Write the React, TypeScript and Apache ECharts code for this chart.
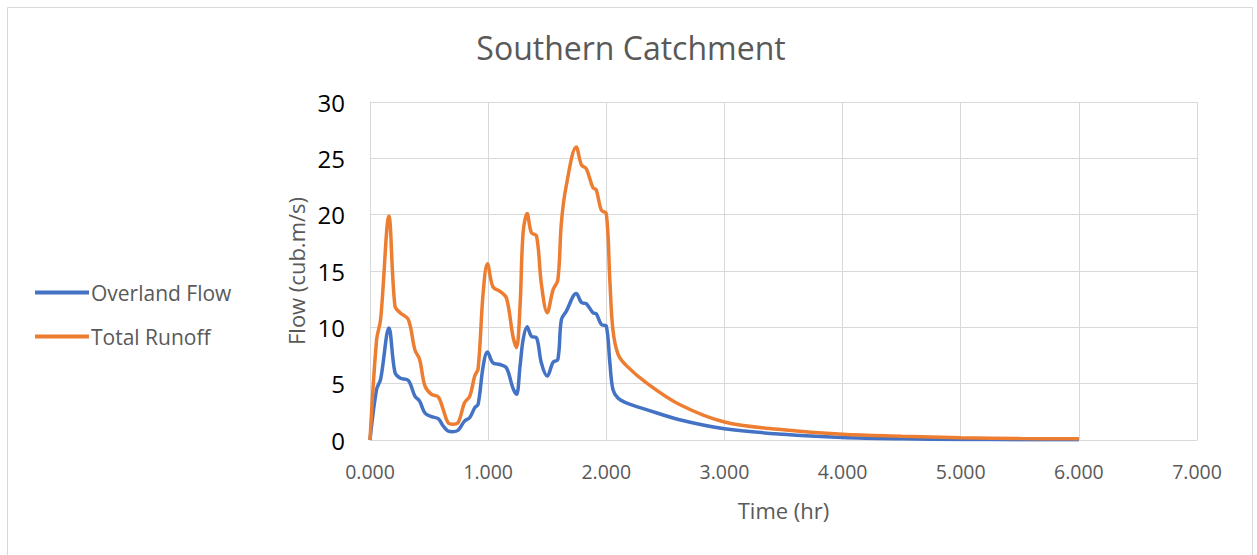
import React, { useEffect, useRef } from "react";
import * as echarts from "echarts";

const timeHr = [0, 0.056, 0.09, 0.16, 0.211, 0.254, 0.324, 0.38, 0.42, 0.465, 0.52, 0.577, 0.62, 0.66, 0.70, 0.746, 0.80, 0.845, 0.887, 0.915, 0.958, 0.994, 1.04, 1.10, 1.155, 1.21, 1.24, 1.27, 1.296, 1.33, 1.366, 1.41, 1.45, 1.50, 1.55, 1.59, 1.62, 1.66, 1.746, 1.79, 1.83, 1.887, 1.915, 1.958, 2.0, 2.03, 2.056, 2.1, 2.17, 2.34, 2.62, 3.0, 3.5, 4.0, 4.5, 5.0, 5.5, 6.0];
const overlandFlow = [0, 4.5, 5.4, 9.95, 6.0, 5.5, 5.3, 3.9, 3.45, 2.4, 2.07, 1.9, 1.24, 0.8, 0.74, 0.86, 1.68, 2.0, 2.87, 3.16, 6.56, 7.8, 6.85, 6.7, 6.4, 4.6, 4.05, 6.56, 8.9, 10.05, 9.2, 9.07, 6.85, 5.67, 6.9, 7.15, 10.7, 11.4, 13.0, 12.2, 12.1, 11.3, 11.2, 10.25, 10.1, 6.9, 4.5, 3.7, 3.3, 2.7, 1.8, 1.0, 0.5, 0.22, 0.1, 0.05, 0.03, 0.02];
const totalRunoff = [0, 8.9, 10.7, 19.85, 11.9, 11.3, 10.7, 8.0, 7.15, 4.8, 4.05, 3.84, 2.7, 1.54, 1.4, 1.54, 3.3, 3.9, 5.7, 6.3, 13.1, 15.65, 13.6, 13.2, 12.6, 9.2, 8.2, 11.9, 18.4, 20.1, 18.4, 18.1, 13.9, 11.3, 13.35, 14.2, 19.3, 22.5, 26.0, 24.4, 24.1, 22.4, 22.2, 20.4, 20.1, 14.2, 9.8, 7.6, 6.6, 5.07, 3.15, 1.6, 0.9, 0.5, 0.33, 0.2, 0.13, 0.1];
const xTicks = [0, 1, 2, 3, 4, 5, 6, 7];
const yTicks = [0, 5, 10, 15, 20, 25, 30];

export default function App() {
  const ref = useRef<HTMLDivElement>(null);
  useEffect(() => {
    if (!ref.current) return;
    const chart = echarts.init(ref.current, null, { renderer: "svg" });
    const font = "'Open Sans', 'Noto Sans', sans-serif";
    chart.setOption({
      animation: false,
      backgroundColor: "#ffffff",
      textStyle: { fontFamily: font },
      title: {
        text: "Southern Catchment",
        left: 626,
        textAlign: "center",
        top: 26,
        textStyle: { fontSize: 32, fontWeight: "normal", color: "#595959", fontFamily: font },
      },
      legend: {
        orient: "vertical",
        left: 30,
        top: 277,
        itemWidth: 54,
        itemHeight: 4,
        itemGap: 23,
        icon: "rect",
        textStyle: { fontSize: 21, color: "#595959", fontFamily: font, padding: [0, 0, 0, -3] },
        data: ["Overland Flow", "Total Runoff"],
      },
      graphic: [
        {
          type: "rect",
          shape: { x: 7.5, y: 7.5, width: 1245, height: 560 },
          style: { fill: "none", stroke: "#d9d9d9", lineWidth: 1 },
          silent: true,
        },
      ],
      grid: { left: 370, right: 60, top: 102, bottom: 115, containLabel: false },
      xAxis: {
        type: "value",
        min: xTicks[0],
        max: xTicks[xTicks.length - 1],
        interval: 1,
        name: "Time (hr)",
        nameLocation: "middle",
        nameGap: 59,
        nameTextStyle: { fontSize: 22, color: "#595959", fontFamily: font },
        axisLine: { show: true, lineStyle: { color: "#d9d9d9", width: 1 } },
        axisTick: { show: false },
        axisLabel: {
          fontSize: 19.5,
          color: "#595959",
          margin: 21,
          formatter: (v: number) => v.toFixed(3),
          fontFamily: font,
        },
        splitLine: { show: true, lineStyle: { color: "#d9d9d9", width: 1 } },
      },
      yAxis: {
        type: "value",
        min: yTicks[0],
        max: yTicks[yTicks.length - 1],
        interval: 5,
        name: "Flow (cub.m/s)",
        nameLocation: "middle",
        nameGap: 62,
        nameRotate: 90,
        nameTextStyle: { fontSize: 22, color: "#595959", fontFamily: font },
        axisLine: { show: true, lineStyle: { color: "#d9d9d9", width: 1 } },
        axisTick: { show: false },
        axisLabel: { fontSize: 24, color: "#000000", margin: 25, fontFamily: font },
        splitLine: { show: true, lineStyle: { color: "#d9d9d9", width: 1 } },
      },
      series: [
        {
          name: "Overland Flow",
          type: "line",
          data: timeHr.map((t, i) => [t, overlandFlow[i]]),
          smooth: 0.35,
          showSymbol: false,
          symbol: "none",
          lineStyle: { color: "#4472c4", width: 3.5 },
          itemStyle: { color: "#4472c4" },
        },
        {
          name: "Total Runoff",
          type: "line",
          data: timeHr.map((t, i) => [t, totalRunoff[i]]),
          smooth: 0.35,
          showSymbol: false,
          symbol: "none",
          lineStyle: { color: "#ed7d31", width: 3.5 },
          itemStyle: { color: "#ed7d31" },
        },
      ],
    });
    return () => chart.dispose();
  }, []);
  return (
    <div
      ref={ref}
      style={{ position: "absolute", left: 0, top: 0, width: 1257, height: 555 }}
    />
  );
}
